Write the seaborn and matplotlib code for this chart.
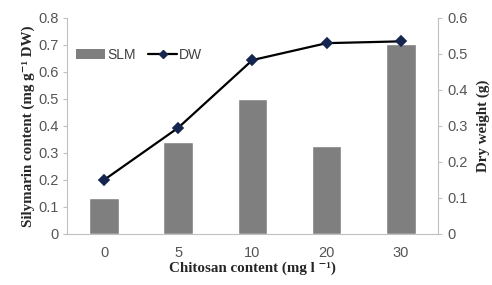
import numpy as np
import pandas as pd
import matplotlib
matplotlib.use("Agg")
import matplotlib.pyplot as plt
import seaborn as sns
from matplotlib.lines import Line2D
from matplotlib.patches import Patch

# data
chitosan = ["0", "5", "10", "20", "30"]
slm = [0.133, 0.34, 0.50, 0.326, 0.705]
dw = [0.15, 0.295, 0.483, 0.53, 0.535]

sns.set_style("white")
plt.rcParams['font.family'] = ['Liberation Sans', 'DejaVu Sans']

df = pd.DataFrame({"chitosan": chitosan, "SLM": slm, "DW": dw})

fig = plt.figure(figsize=(4.92, 2.85), dpi=100)
ax = fig.add_axes([0.136, 0.179, 0.754, 0.758])
sns.barplot(data=df, x="chitosan", y="SLM", order=chitosan, color="#7f7f7f",
            saturation=1, width=0.4, ax=ax)
ax.set_ylim(0, 0.8)
ax.set_yticks(np.arange(0, 0.81, 0.1))
ax.set_yticklabels(["0"] + [f"{v:.1f}" for v in np.arange(0.1, 0.81, 0.1)])
ax.set_xlim(-0.5, 4.5)

ax2 = ax.twinx()
sns.pointplot(data=df, x="chitosan", y="DW", order=chitosan, color="black",
              markers="D", markersize=5, linewidth=1.6, ax=ax2)
for ln in ax2.lines:
    ln.set_markerfacecolor("#14264f")
    ln.set_markeredgecolor("#14264f")
ax2.set_ylim(0, 0.6)
ax2.set_yticks(np.arange(0, 0.61, 0.1))
ax2.set_yticklabels(["0"] + [f"{v:.1f}" for v in np.arange(0.1, 0.61, 0.1)])
ax2.set_xlim(-0.5, 4.5)

grey = "#c0c0c0"
tick_col = "#555555"
for a in (ax, ax2):
    for s in a.spines.values():
        s.set_visible(False)
    a.tick_params(axis="both", labelsize=10.5, colors=tick_col, length=3, width=0.8)
    a.tick_params(axis="both", color=grey)
    a.set_xlabel("")
    a.set_ylabel("")
ax.spines["left"].set_visible(True)
ax.spines["bottom"].set_visible(True)
ax2.spines["right"].set_visible(True)
ax.spines["left"].set_color(grey)
ax.spines["bottom"].set_color(grey)
ax2.spines["right"].set_color(grey)

# minor ticks between categories on the x axis
ax.set_xticks(np.arange(-0.5, 4.6, 1), minor=True)
ax.tick_params(axis="x", which="major", length=0, pad=9)
ax.tick_params(axis="x", which="minor", length=4, color=grey, direction="inout")
ax.tick_params(axis="y", direction="out", left=True, pad=3)
ax2.tick_params(axis="y", direction="out", right=True, pad=4)

serif = ['Liberation Serif', 'DejaVu Serif']
ax.set_ylabel("Silymarin content (mg g\u207b\u00b9 DW)", family=serif,
              fontweight="bold", fontsize=10.8, labelpad=2)
ax2.set_ylabel("Dry weight (g)", family=serif, fontweight="bold",
               fontsize=10.8, labelpad=6)
ax.set_xlabel("Chitosan content (mg l \u207b\u00b9)", family=serif,
              fontweight="bold", fontsize=10.8, labelpad=1)

handles = [Patch(facecolor="#7f7f7f", edgecolor="none"),
           Line2D([], [], color="black", lw=1.6, marker="D", markersize=4.5,
                  markerfacecolor="#14264f", markeredgecolor="#14264f")]
ax2.legend(handles, ["SLM", "DW"], loc="upper left", bbox_to_anchor=(-0.01, 0.92),
           ncol=2, frameon=False, fontsize=10, handlelength=2.1,
           handletextpad=0.15, columnspacing=0.9, labelcolor="#404040")

fig.savefig("out.png", dpi=100)
